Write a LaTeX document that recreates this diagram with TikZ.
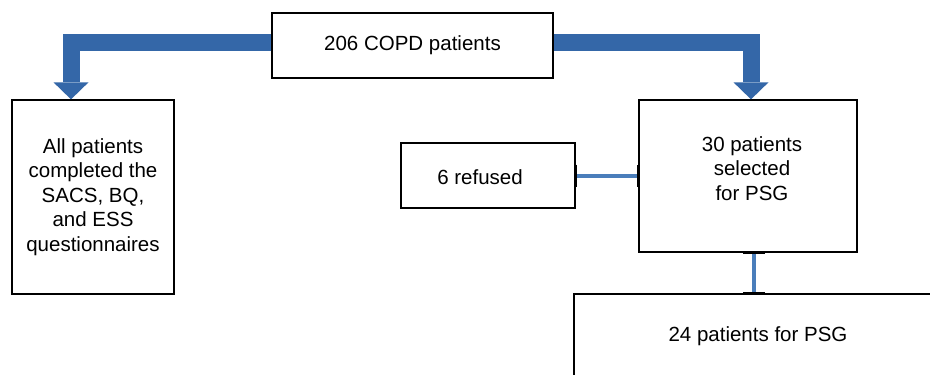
\documentclass[tikz,border=0pt]{standalone}
\usepackage{fontspec}
\setmainfont{Liberation Sans}
\usetikzlibrary{arrows.meta,calc}
\definecolor{arrowblue}{HTML}{3467A8}
\definecolor{linkblue}{HTML}{4A7EBB}
\tikzset{
  box/.style={draw=black, line width=1.3pt, fill=white, inner sep=0pt, align=center,
              font=\fontsize{20.5}{24.5}\selectfont},
  txt/.style={inner sep=0pt, align=center, font=\fontsize{20.5}{24.5}\selectfont},
  blockarrow/.style={draw=arrowblue, line width=17pt, line join=miter,
              -{Triangle[width=35pt,length=17pt,line width=0pt]}},
  link/.style={draw=linkblue, line width=4pt},
  tick/.style={draw=black, line width=3.2pt}
}
\begin{document}
\begin{tikzpicture}[x=1pt,y=-1pt]
\clip (0,0) rectangle (930,375);
\fill[white] (0,0) rectangle (930,375);
% boxes
\node[box, minimum width=281pt, minimum height=65pt] (top) at (412.5,45.5) {206 COPD patients};
\node[box, minimum width=162pt, minimum height=194pt] (all) at (93,197)
  {All patients\\completed the\\SACS, BQ,\\and ESS\\questionnaires};
\node[box, minimum width=174pt, minimum height=65pt] (ref) at (488,175.5) {};
\node[txt] at (480,177) {6 refused};
\node[box, minimum width=218pt, minimum height=152pt] (sel) at (748,176) {};
\node[txt, anchor=north] at ([xshift=4pt,yshift=-37pt]sel.north) {30 patients\\selected\\for PSG};
\node[box, minimum width=368pt, minimum height=84pt] (psg) at (758,336) {24 patients for PSG};
% block arrows
\draw[blockarrow] ($(top.west)+(0,-3)$) -| ([xshift=-22pt]all.north);
\draw[blockarrow] ($(top.east)+(0,-3)$) -| ([xshift=3pt]sel.north);
% links
\draw[link] (ref.east) -- (sel.west |- ref.east);
\draw[tick] ([yshift=11pt]ref.east) -- ([yshift=-11pt]ref.east);
\draw[tick] ($(sel.west |- ref.east)+(0,-11)$) -- ($(sel.west |- ref.east)+(0,11)$);
\coordinate (lk) at ([xshift=6pt]sel.south);
\draw[link] (lk) -- (lk |- psg.north);
\draw[tick] ([xshift=-11pt]lk) -- ([xshift=11pt]lk);
\draw[tick] ($(lk |- psg.north)+(-11,0)$) -- ($(lk |- psg.north)+(11,0)$);
\end{tikzpicture}
\end{document}
